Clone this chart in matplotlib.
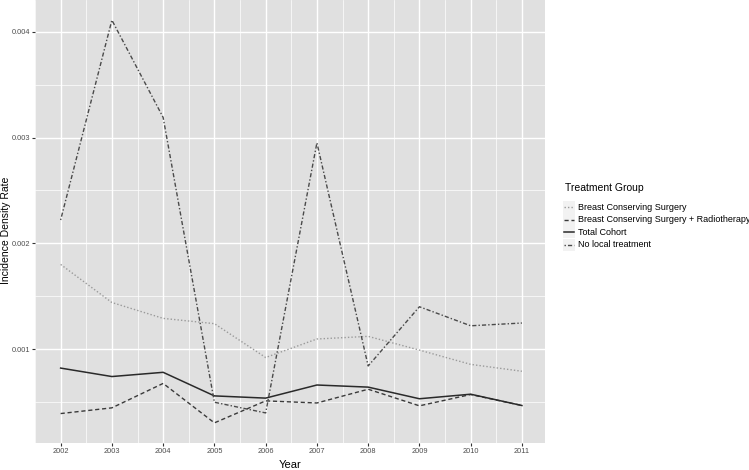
import matplotlib
matplotlib.use("Agg")
import matplotlib.pyplot as plt
from matplotlib.lines import Line2D
from matplotlib.patches import Rectangle

plt.rcParams['font.family'] = ['Liberation Sans', 'DejaVu Sans']

years = [2002, 2003, 2004, 2005, 2006, 2007, 2008, 2009, 2010, 2011]
bcs = [0.00180, 0.00144, 0.00129, 0.00124, 0.00092, 0.001095, 0.00112, 0.00099, 0.000855, 0.00079]
bcs_rt = [0.00039, 0.000444, 0.000675, 0.000302, 0.00051, 0.00049, 0.00062, 0.000463, 0.00057, 0.000466]
total = [0.00082, 0.00074, 0.00078, 0.000557, 0.000536, 0.00066, 0.00064, 0.00053, 0.000573, 0.000466]
no_local = [0.00222, 0.00411, 0.00319, 0.000497, 0.000396, 0.00295, 0.00084, 0.00140, 0.00122, 0.001246]

labels = ["Breast Conserving Surgery", "Breast Conserving Surgery + Radiotherapy",
          "Total Cohort", "No local treatment"]

fig = plt.figure(figsize=(7.49, 4.70), dpi=100)
ax = fig.add_axes([35/749, 27/470, 510/749, 443/470])
ax.set_facecolor('#e0e0e0')

styles = [
    dict(color='#9a9a9a', linestyle=(0, (1, 1.5)), linewidth=1.0),
    dict(color='#3a3a3a', linestyle=(0, (3, 2)), linewidth=1.0),
    dict(color='#2a2a2a', linestyle='-', linewidth=1.1),
    dict(color='#4a4a4a', linestyle=(0, (1, 1.5, 3, 1.5)), linewidth=1.0),
]
series = [bcs, bcs_rt, total, no_local]
for s, st in zip(series, styles):
    ax.plot(years, s, **st, zorder=3)

allv = [v for s in series for v in s]
lo, hi = min(allv), max(allv)
pad = 0.05 * (hi - lo)
ax.set_ylim(lo - pad, hi + pad)
ax.set_xlim(2002 - 0.45, 2011 + 0.45)

ax.set_xticks(years)
ax.set_xticklabels([str(y) for y in years])
ax.set_xticks([y + 0.5 for y in years[:-1]] + [2001.5], minor=True)
ax.set_yticks([0.001, 0.002, 0.003, 0.004])
ax.set_yticklabels(['0.001', '0.002', '0.003', '0.004'])
ax.set_yticks([0.0005, 0.0015, 0.0025, 0.0035], minor=True)

ax.grid(which='major', color='white', linewidth=1.0, zorder=1)
ax.grid(which='minor', color='white', linewidth=0.5, zorder=1)
ax.set_axisbelow(True)
for sp in ax.spines.values():
    sp.set_visible(False)
ax.tick_params(which='major', length=2.5, width=0.8, color='#333333', labelsize=5.3, labelcolor='#4d4d4d', pad=1.2)
ax.tick_params(which='minor', length=0)

ax.set_xlabel('Year', fontsize=8)
ax.set_ylabel('Incidence Density Rate', fontsize=7.5)
ax.xaxis.set_label_coords((290 - 35) / 510, (470 - 465 - 27) / 443)
ax.yaxis.set_label_coords((6.5 - 35) / 510, (470 - 230 - 27) / 443)
ax.xaxis.label.set_va('center')
ax.yaxis.label.set_va('center')

# legend
fig.text(565/749, 1 - 188/470, 'Treatment Group', fontsize=7.5, va='center', ha='left')
ys = [207, 219.5, 232, 244.5]
for lab, st, yy in zip(labels, styles, ys):
    yf = 1 - yy/470
    fig.patches.append(Rectangle((563/749, yf - 6/470), 12/749, 12/470,
                                 transform=fig.transFigure, facecolor='#f2f2f2', edgecolor='none'))
    fig.lines.append(Line2D([564/749, 574/749], [yf, yf], transform=fig.transFigure, **st))
    fig.text(578/749, yf, lab, fontsize=6.5, va='center', ha='left')

fig.savefig('out.png', dpi=100)
